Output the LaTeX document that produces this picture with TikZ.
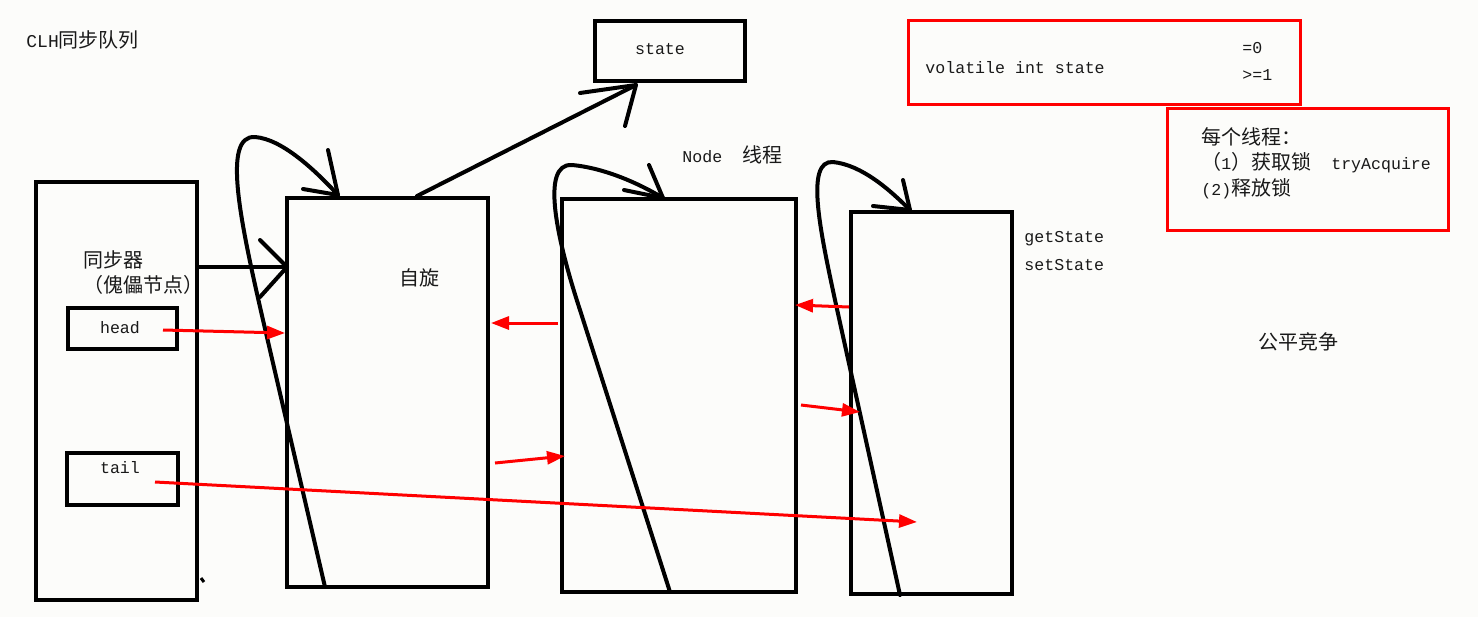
\documentclass[tikz,border=0pt]{standalone}
\usepackage{fontspec}
\setmainfont{Liberation Mono}
\newfontfamily\cjkfont{Noto Sans CJK SC}
\newcommand\zh[1]{{\cjkfont\fontsize{10}{12}\selectfont #1}}
\usetikzlibrary{arrows.meta,calc}
\definecolor{pred}{RGB}{255,0,0}
\definecolor{bgc}{RGB}{252,252,250}
\begin{document}
\begin{tikzpicture}[x=0.5pt,y=-0.5pt,
  blk/.style={draw=black,line width=2pt,inner sep=0pt},
  redbox/.style={draw=pred,line width=1.5pt,inner sep=0pt},
  blkline/.style={draw=black,line width=2pt,line cap=round,line join=round},
  redarr/.style={draw=pred,line width=1.5pt,-{Triangle[length=9pt,width=6.5pt]}},
  txt/.style={inner sep=0pt,anchor=west,text=black!90,font=\fontsize{8.3}{10}\selectfont}]
\fill[bgc] (0,0) rectangle (1478,617);
\useasboundingbox (0,0) rectangle (1478,617);

% boxes
\node[blk,minimum width=80.5pt,minimum height=209pt] (sync) at (116.5,391) {};
\node[blk,minimum width=54.5pt,minimum height=20.5pt] (head) at (122.5,328.5) {};
\node[blk,minimum width=55.5pt,minimum height=26pt] (tail) at (122.5,479) {};
\node[blk,minimum width=100.5pt,minimum height=194.5pt] (N1) at (387.5,392.5) {};
\node[blk,minimum width=117pt,minimum height=196.5pt] (N2) at (679,395.5) {};
\node[blk,minimum width=80.5pt,minimum height=191pt] (N3) at (931.5,403) {};
\node[blk,minimum width=75pt,minimum height=30pt] (state) at (670,51) {};
\node[redbox,minimum width=196pt,minimum height=42pt] (red1) at (1104,62) {};
\node[redbox,minimum width=140.5pt,minimum height=61pt] (red2) at (1307.5,169) {};

% texts
\node[txt] (title) at (26,40) {{\fontsize{9}{10}\selectfont CLH}\zh{同步队列}};
\node[txt] (syncl) at (83,260) {\zh{同步器}};
\node[txt] (syncl2) at (83,285) {\zh{（傀儡节点）}};
\node[txt,anchor=center] (headl) at (120,328) {head};
\node[txt,anchor=center] (taill) at (120,468) {tail};
\node[txt,anchor=center] (spin) at (419,278) {\zh{自旋}};
\node[txt,anchor=center] (statel) at (660,49) {state};
\node[txt] (nodel) at (682,155) {Node\ \ \zh{线程}};
\node[txt] (gs) at (1024,239) {getState};
\node[txt] (ss) at (1024,265) {setState};
\node[txt] (fair) at (1258,342) {\zh{公平竞争}};
\node[txt] (vol) at (925,68) {volatile int state};
\node[txt] (z) at (1242,48) {=0};
\node[txt] (ge) at (1242,75) {>=1};
\node[txt] (l1) at (1201,137) {\zh{每个线程：}};
\node[txt] (l2) at (1201,163) {\zh{（}1\zh{）获取锁}\ \ tryAcquire};
\node[txt] (l3) at (1201,189) {(2)\zh{释放锁}};

% black arrow sync -> N1
\coordinate (t1) at ($(N1.west)+(2,-125.5)$);
\draw[blkline] (sync.east |- t1) -- (t1);
\draw[blkline] ($(t1)+(-27,-27)$) -- (t1) -- ($(t1)+(-27,30)$);

% black arrow N1 -> state
\coordinate (ts) at ($(state.south)+(-34,2)$);
\draw[blkline] ($(N1.north)+(29.5,0)$) -- (ts);
\draw[blkline] ($(ts)+(-56,8)$) -- (ts) -- ($(ts)+(-11,41)$);

% self loops
\coordinate (t2) at ($(N1.north)+(-49.5,-1)$);
\draw[blkline] ($(N1.south)+(-62.5,-2)$) -- (263,320) .. controls (240,220) and (222,135) .. (255,137) .. controls (282,139) and (315,170) .. (t2);
\draw[blkline] (328,150) -- (t2) -- (303,189);

\coordinate (t3) at ($(N2.north)+(-16,1)$);
\draw[blkline] ($(N2.south)+(-9,-2)$) -- (580,310) .. controls (557,240) and (540,163) .. (572,165) .. controls (605,168) and (640,184) .. (t3);
\draw[blkline] (649,165) -- (t3) -- (624,190);

\coordinate (t4) at ($(N3.north)+(-21.5,0)$);
\draw[blkline] ($(N3.south)+(-31.5,-1)$) -- (835,300) .. controls (820,230) and (805,160) .. (833,162) .. controls (862,165) and (890,190) .. (t4);
\draw[blkline] (903,180) -- (t4) -- (873,206);

% small mark
\draw[line width=1.5pt] ($(sync.east)+(2,187)$) -- ($(sync.east)+(5,191)$);

% red arrows
\draw[redarr] ($(head.east)+(-16,1.5)$) -- ($(N1.west)+(0,-59.5)$);
\draw[redarr] ($(N2.west)+(-2,-72.5)$) -- ($(N1.east)+(1,-69.5)$);
\draw[redarr] ($(N1.east)+(5,70.5)$) -- ($(N2.west)+(5,60.5)$);
\draw[redarr] ($(N3.west)+(0,-96)$) -- ($(N2.east)+(-3,-90.5)$);
\draw[redarr] ($(N2.east)+(3,9.5)$) -- ($(N3.west)+(11,9)$);
\draw[redarr] ($(tail.east)+(-25,3)$) -- ($(N3.center)+(-14.5,119)$);
\end{tikzpicture}
\end{document}
